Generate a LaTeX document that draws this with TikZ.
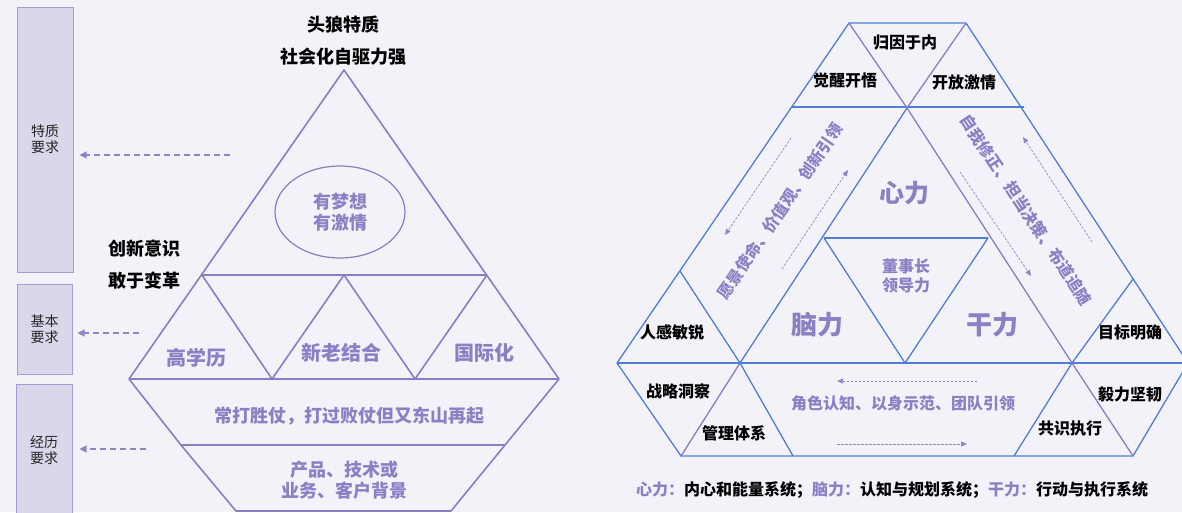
\documentclass[tikz,border=0pt]{standalone}
\usepackage{fontspec}
\setmainfont{Noto Sans CJK SC}
\usepackage{tikz}
\usetikzlibrary{arrows.meta}
\usepackage{xcolor}
\definecolor{bgpaper}{HTML}{F3F2F9}
\definecolor{boxfill}{HTML}{DBD7EA}
\definecolor{boxline}{HTML}{A79CD5}
\definecolor{lavender}{HTML}{8A7DC2}
\definecolor{lavtext}{HTML}{8C80C4}
\definecolor{gridblue}{HTML}{4E7FD0}
\definecolor{arrowgray}{HTML}{9184C6}

\tikzset{
  reqbox/.style={draw=boxline, fill=boxfill, line width=1pt, inner sep=0pt,
    font=\fontsize{14}{16}\selectfont, align=center, text=black!85},
  reqarrow/.style={arrowgray, line width=1.2pt, dash pattern=on 6pt off 4pt,
    -{Triangle[length=7pt, width=7pt]}},
  flowarrow/.style={arrowgray, line width=0.7pt, dash pattern=on 2.5pt off 1.5pt,
    -{Triangle[length=6pt, width=5pt]}},
  pyr/.style={lavender, line width=1.6pt, line join=round},
  gridb/.style={gridblue, line width=1.3pt, line join=round},
  gridp/.style={lavender, line width=1.3pt},
  headline/.style={inner sep=0pt, font=\fontsize{18}{22}\selectfont\bfseries},
  pyrlabel/.style={inner sep=0pt, text=lavtext, align=center,
    font=\fontsize{18}{21}\selectfont\bfseries},
  cell/.style={inner sep=0pt, font=\fontsize{16}{19}\selectfont\bfseries},
  celllav/.style={inner sep=0pt, text=lavtext, align=center,
    font=\fontsize{16}{19}\selectfont\bfseries},
  power/.style={inner sep=0pt, text=lavtext, font=\fontsize{26}{30}\selectfont\bfseries}
}

\begin{document}
\begin{tikzpicture}[x=1pt, y=-1pt]

    %% ── Paper ─────────────────────────────────────────────────────────────
    \fill[bgpaper] (0,0) rectangle (1182,512);
    \useasboundingbox (0,0) rectangle (1182,512);

    %% ═══ Requirement boxes ═════════════════════════════════════════════════
    \node[reqbox, minimum width=56, minimum height=265] (trait) at (45,139.5) {特质\\要求};
    \node[reqbox, minimum width=55, minimum height=90]  (basic) at (44.5,329) {基本\\要求};
    \node[reqbox, minimum width=56, minimum height=132] (exper) at (44,450) {经历\\要求};

    \coordinate (traitFrom) at (230,155);
    \coordinate (basicFrom) at (139,333);
    \coordinate (experFrom) at (146,449);
    \draw[reqarrow, shorten >=6pt] (traitFrom) -- (traitFrom -| trait.east);
    \draw[reqarrow, shorten >=5pt] (basicFrom) -- (basicFrom -| basic.east);
    \draw[reqarrow, shorten >=7pt] (experFrom) -- (experFrom -| exper.east);

    %% ═══ Left pyramid ══════════════════════════════════════════════════════
    \coordinate (apex) at (344,70);
    \coordinate (bL) at (202,275); \coordinate (bM) at (344,275); \coordinate (bR) at (487,275);
    \coordinate (cA) at (129,379); \coordinate (cB) at (272,379);
    \coordinate (cC) at (415,379); \coordinate (cD) at (559,379);
    \coordinate (dL) at (181,445); \coordinate (dR) at (505,445);
    \coordinate (eL) at (236,511); \coordinate (eR) at (451,511);

    \draw[pyr] (apex) -- (cA) -- (dL) -- (eL) -- (eR) -- (dR) -- (cD) -- cycle;
    \draw[pyr] (bL) -- (bR);
    \draw[pyr] (cA) -- (cD);
    \draw[pyr] (dL) -- (dR);
    \draw[pyr] (bL) -- (cB) -- (bM) -- (cC) -- (bR);
    \draw[pyr, line width=1.2pt] (340,212) ellipse [x radius=65, y radius=46];

    \node[headline] (wolf)  at (343,25)  {头狼特质};
    \node[headline] (drive) at (343,57)  {社会化自驱力强};
    \node[headline] (innov) at (144,249) {创新意识};
    \node[headline] (dare)  at (144,281) {敢于变革};

    \node[pyrlabel] (dream) at (340,212) {有梦想\\有激情};
    \node[pyrlabel, font=\fontsize{20}{24}\selectfont\bfseries] (degree) at (196,358) {高学历};
    \node[pyrlabel, font=\fontsize{20}{24}\selectfont\bfseries] (mix)    at (341,353) {新老结合};
    \node[pyrlabel, font=\fontsize{20}{24}\selectfont\bfseries] (intl)   at (484,353) {国际化};
    \node[pyrlabel] (battle) at (349,416) {常打胜仗，打过败仗但又东山再起};
    \node[pyrlabel] (field)  at (344,480) {产品、技术或\\业务、客户背景};

    %% ═══ Right grid: heart / brain / hand ═════════════════════════════════
    \coordinate (tL) at (849,23);   \coordinate (tR) at (966,23);
    \coordinate (hub) at (907,108);
    \coordinate (mL) at (792,107);  \coordinate (mR) at (1024,107);
    \coordinate (sL) at (680,271);  \coordinate (sR) at (1133,279);
    \coordinate (hL) at (824,238);  \coordinate (hR) at (988,238);
    \coordinate (wL) at (617,363);  \coordinate (nL) at (740,363);
    \coordinate (nM) at (905,363);  \coordinate (nR) at (1072,363);
    \coordinate (wR) at (1188,363);
    \coordinate (gA) at (681,456);  \coordinate (gB) at (793,456);
    \coordinate (gC) at (1014,456); \coordinate (gD) at (1133,456);

    % blue grid lines
    \draw[gridb] (tL) -- (tR) -- (wR) -- (gD) -- (gA) -- (wL) -- cycle;
    \draw[gridb] (mL) -- (mR);
    \draw[gridb] (hub) -- (nL);
    \draw[gridb] (hL) -- (hR);
    \draw[gridb] (hL) -- (nM) -- (hR);
    \draw[gridb] (wL) -- (wR);
    \draw[gridb] (sL) -- (nL);
    \draw[gridb] (sR) -- (nR);
    \draw[gridb] (nL) -- (gB);
    \draw[gridb] (nR) -- (gC);
    % purple grid lines
    \draw[gridp] (tL) -- (hub) -- (tR);
    \draw[gridp] (hub) -- (nR);
    \draw[gridp] (nL) -- (gA);
    \draw[gridp] (nR) -- (gD);

    %% Cell labels
    \node[cell] (cause)  at (905,43)   {归因于内};
    \node[cell] (awake)  at (845,80)   {觉醒开悟};
    \node[cell] (open)   at (964,82)   {开放激情};
    \node[cell] (sense)  at (672,332)  {人感敏锐};
    \node[cell] (goal)   at (1130,332) {目标明确};
    \node[cell] (insight) at (678,391) {战略洞察};
    \node[cell] (system) at (734,433)  {管理体系};
    \node[cell] (grit)   at (1130,394) {毅力坚韧};
    \node[cell] (agree)  at (1070,428) {共识执行};

    \node[power, font=\fontsize{25}{30}\selectfont\bfseries] (heart) at (904,193) {心力};
    \node[power] (brain) at (817,325) {脑力};
    \node[power] (hand)  at (992,325) {干力};
    \node[celllav] (chair) at (906,276) {董事长\\领导力};

    %% Band texts and flow arrows
    \node[celllav, rotate=55.5] (vision) at (780,211)
      {愿景使命、价值观、创新引领};
    \node[celllav, rotate=-56.5] (selfcor) at (1026,210)
      {自我修正、担当决策、布道追随};
    \node[celllav] (role) at (903,403) {角色认知、以身示范、团队引领};

    \coordinate (v1a) at (791,138);  \coordinate (v1b) at (725,235);
    \coordinate (v2a) at (782,269);  \coordinate (v2b) at (848,170);
    \coordinate (s1a) at (960,172);  \coordinate (s1b) at (1031,276);
    \coordinate (s2a) at (1092,242); \coordinate (s2b) at (1023,137);
    \coordinate (r1a) at (977,381);  \coordinate (r1b) at (837,381);
    \coordinate (r2a) at (837,444);  \coordinate (r2b) at (967,444);
    \draw[flowarrow] (v1a) -- (v1b);
    \draw[flowarrow] (v2a) -- (v2b);
    \draw[flowarrow] (s1a) -- (s1b);
    \draw[flowarrow] (s2a) -- (s2b);
    \draw[flowarrow] (r1a) -- (r1b);
    \draw[flowarrow] (r2a) -- (r2b);

    %% Legend
    \node[cell] (legend) at (892,490)
      {\textcolor{lavtext}{心力：}内心和能量系统；\textcolor{lavtext}{脑力：}认知与规划系统；\textcolor{lavtext}{干力：}行动与执行系统};

\end{tikzpicture}
\end{document}
